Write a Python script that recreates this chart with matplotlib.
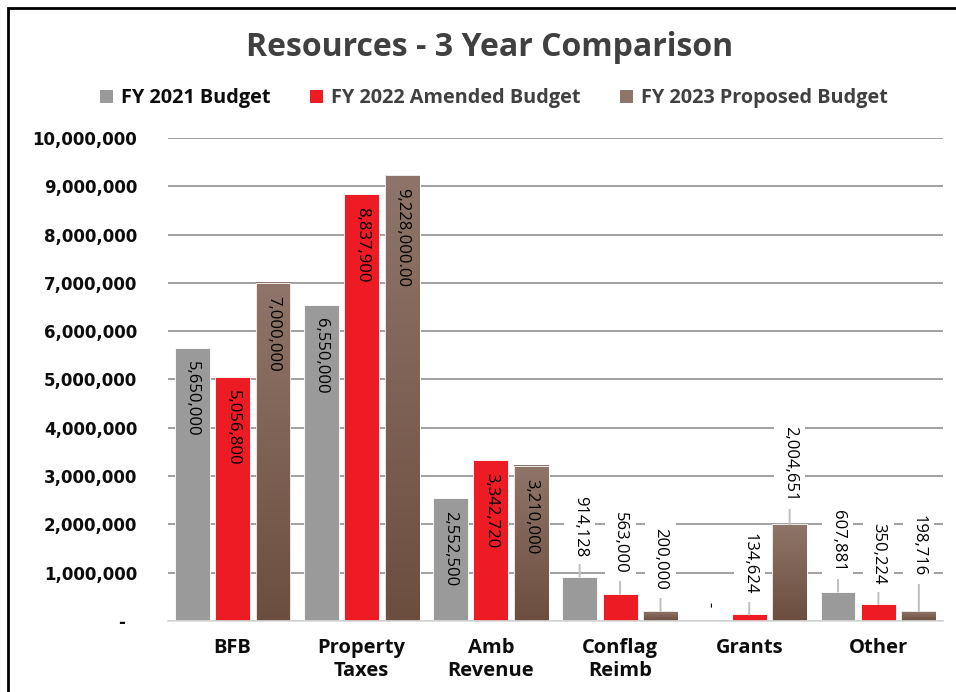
import matplotlib
matplotlib.use('Agg')
import matplotlib.pyplot as plt
import numpy as np
from matplotlib.patches import Patch, Rectangle
from matplotlib.ticker import FuncFormatter
from matplotlib.colors import LinearSegmentedColormap

# Resource categories and the three budget years
categories = ['BFB', 'Property\nTaxes', 'Amb\nRevenue', 'Conflag\nReimb', 'Grants', 'Other']
series_names = ['FY 2021 Budget', 'FY 2022 Amended Budget', 'FY 2023 Proposed Budget']
fy2021 = [5650000, 6550000, 2552500, 914128, 0, 607881]
fy2022 = [5056800, 8837900, 3342720, 563000, 134624, 350224]
fy2023 = [7000000, 9228000, 3210000, 200000, 2004651, 198716]
label_fmt = ['{:,.0f}', '{:,.0f}', '{:,.0f}']
fy2023_labels = ['7,000,000', '9,228,000.00', '3,210,000', '200,000', '2,004,651', '198,716']

GRAY = '#9a9a9a'
RED = '#ed1c24'
BROWN_TOP = '#8f7569'
BROWN_BOT = '#6c4e3f'
GRID = '#868686'
HEAD_FONT = 'Open Sans'

fig = plt.figure(figsize=(9.56, 6.92), dpi=100)
ax = fig.add_axes([0.1757, 0.1026, 0.8107, 0.698])

x = np.arange(len(categories))
width = 0.27
offsets = [-0.313, 0.0, 0.313]
all_values = [fy2021, fy2022, fy2023]

bars_by_series = []
for vals, off, color in zip(all_values, offsets, [GRAY, RED, 'none']):
    bars = ax.bar(x + off, vals, width, color=color, edgecolor='white',
                  linewidth=0.6, zorder=3)
    bars_by_series.append(bars)

# vertical gradient fill for the FY 2023 bars
brown_cmap = LinearSegmentedColormap.from_list('brown', [BROWN_BOT, BROWN_TOP])
grad = np.linspace(0, 1, 256).reshape(-1, 1)
for b in bars_by_series[2]:
    x0, w, h = b.get_x(), b.get_width(), b.get_height()
    if h <= 0:
        continue
    ax.imshow(grad, cmap=brown_cmap, origin='lower', aspect='auto',
              extent=[x0, x0 + w, 0, h], zorder=3)
    ax.add_patch(Rectangle((x0, 0), w, h, fill=False, edgecolor='white',
                           linewidth=0.6, zorder=4))

ax.set_xlim(-0.5, len(categories) - 0.5)
ax.set_ylim(0, 10000000)
ax.set_yticks(np.arange(0, 10000001, 1000000))
ax.yaxis.set_major_formatter(FuncFormatter(lambda v, p: '-  ' if v == 0 else f'{v:,.0f}'))
ax.set_xticks(x)
ax.set_xticklabels(categories, fontfamily=HEAD_FONT, fontweight='bold', fontsize=14.5,
                   color='#0d0d0d', linespacing=1.2)
for lbl in ax.get_yticklabels():
    lbl.set_fontweight('bold')
    lbl.set_fontsize(12)
    lbl.set_color('#0d0d0d')
ax.tick_params(axis='y', length=0, pad=22)
ax.tick_params(axis='x', length=0, pad=12)

ax.grid(axis='y', color=GRID, linewidth=1.1, zorder=0)
ax.set_axisbelow(True)
for side in ['top', 'right', 'left']:
    ax.spines[side].set_visible(False)
ax.spines['bottom'].set_color('#d9d9d9')
ax.spines['bottom'].set_linewidth(1.2)
ax.spines['bottom'].set_zorder(5)

# inside-end labels for the large groups, callouts for the small ones
inside_group = [True, True, True, False, False, False]
callout_gap = [20, 20, 20, 20, 20, 20]
callout_gap_2023 = [20, 20, 20, 21, 23, 35]
label_font = dict(fontfamily='Open Sans', fontsize=12, color='black', rotation=-90)

for s, (bars, vals) in enumerate(zip(bars_by_series, all_values)):
    for i, (b, v) in enumerate(zip(bars, vals)):
        cx = b.get_x() + b.get_width() / 2
        text = fy2023_labels[i] if s == 2 else label_fmt[s].format(v)
        if v == 0:
            ax.annotate('-', (cx, 0), xytext=(0, 10), textcoords='offset points',
                        ha='center', va='bottom', zorder=6, **label_font)
            continue
        if inside_group[i]:
            ax.annotate(text, (cx, v), xytext=(0, -9.5), textcoords='offset points',
                        ha='center', va='top', zorder=6, **label_font)
        else:
            gap = callout_gap_2023[i] if s == 2 else callout_gap[i]
            ax.annotate(text, (cx, v), xytext=(0, gap * 0.72), textcoords='offset points',
                        ha='center', va='bottom', zorder=6,
                        bbox=dict(boxstyle='square,pad=0.45', fc='white', ec='none'),
                        arrowprops=dict(arrowstyle='-', color='#bfbfbf', lw=1.4,
                                        shrinkA=0, shrinkB=0),
                        **label_font)

fig.text(0.512, 0.932, 'Resources - 3 Year Comparison', ha='center', va='center',
         fontfamily=HEAD_FONT, fontweight='bold', fontsize=23, color='#404040')

handles = [Patch(facecolor=c, edgecolor='none') for c in [GRAY, RED, BROWN_TOP]]
leg = fig.legend(handles, series_names, loc='center', bbox_to_anchor=(0.517, 0.858),
                 ncol=3, frameon=False, handlelength=0.65, handleheight=0.65,
                 handletextpad=0.4, columnspacing=2.0,
                 prop=dict(family=HEAD_FONT, weight='bold', size=14.3))
for t, c in zip(leg.get_texts(), ['#0d0d0d', '#404040', '#404040']):
    t.set_color(c)

# chart frame
fig.add_artist(Rectangle((0.0084, -0.02), 1.05, 1.0084, transform=fig.transFigure,
                         fill=False, edgecolor='black', linewidth=2, clip_on=False))

fig.savefig('out.png', dpi=100)
